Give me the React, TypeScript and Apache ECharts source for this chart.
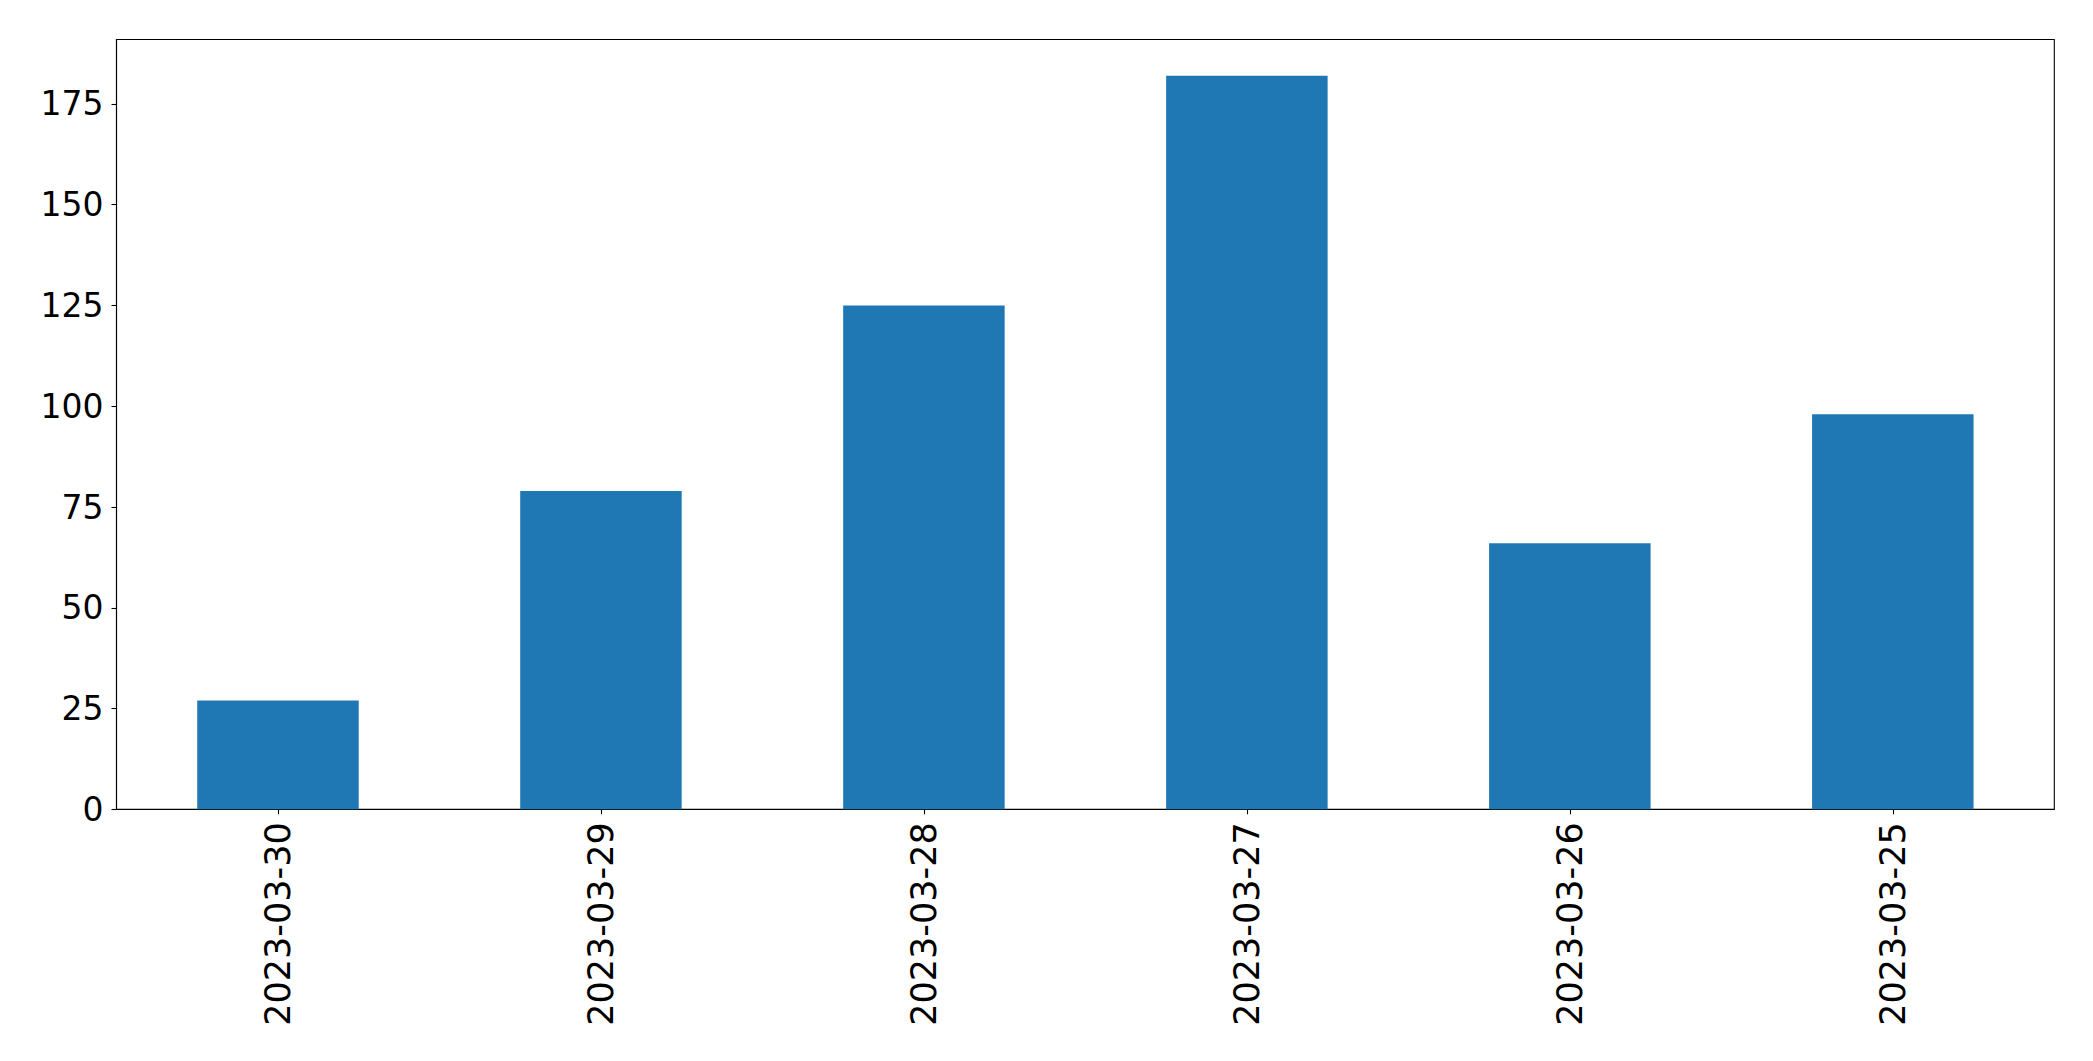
import React, { useEffect, useRef } from "react";
import * as echarts from "echarts";

const categories = ["2023-03-30", "2023-03-29", "2023-03-28", "2023-03-27", "2023-03-26", "2023-03-25"];
const values = [27, 79, 125, 182, 66, 98];
const yTicks = [0, 25, 50, 75, 100, 125, 150, 175];

export default function App() {
  const ref = useRef<HTMLDivElement>(null);
  useEffect(() => {
    document.body.style.margin = "0";
    const chart = echarts.init(ref.current!, null, { renderer: "svg" });
    const font = "DejaVu Sans";
    chart.setOption({
      animation: false,
      backgroundColor: "#ffffff",
      grid: {
        left: 116.5,
        top: 39.5,
        right: 38.7,
        bottom: 251.7,
        show: true,
        borderColor: "#000000",
        borderWidth: 1.1,
        backgroundColor: "transparent",
      },
      xAxis: {
        type: "category",
        data: categories,
        boundaryGap: true,
        axisLine: { show: true, lineStyle: { color: "#000000", width: 1.1 } },
        axisTick: { show: true, alignWithLabel: true, length: 5, lineStyle: { color: "#000000", width: 1.1 } },
        axisLabel: {
          rotate: 90,
          margin: 13,
          color: "#000000",
          fontFamily: font,
          fontSize: 35,
          interval: 0,
        },
        splitLine: { show: false },
      },
      yAxis: {
        type: "value",
        min: 0,
        max: 191,
        interval: 25,
        axisLine: { show: true, lineStyle: { color: "#000000", width: 1.1 } },
        axisTick: { show: true, length: 5, customValues: yTicks, lineStyle: { color: "#000000", width: 1.1 } },
        axisLabel: {
          customValues: yTicks,
          margin: 13,
          color: "#000000",
          fontFamily: font,
          fontSize: 33,
        },
        splitLine: { show: false },
      },
      series: [
        {
          type: "bar",
          data: values,
          barWidth: "50%",
          itemStyle: { color: "#1f77b4" },
        },
      ],
    });
    return () => chart.dispose();
  }, []);
  return <div ref={ref} style={{ position: "fixed", left: 0, top: 0, width: 2093, height: 1061 }} />;
}
